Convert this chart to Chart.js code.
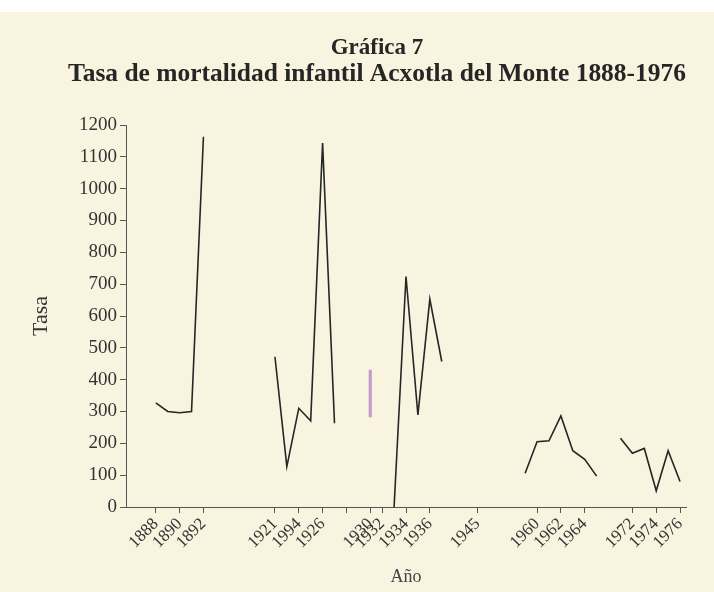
<!DOCTYPE html>
<html lang="es">
<head>
<meta charset="utf-8">
<title>Gráfica 7</title>
<script src="https://cdn.jsdelivr.net/npm/chart.js@4.4.1/dist/chart.umd.min.js"></script>
<style>
  html, body { margin: 0; padding: 0; background: #f8f4df; }
  #grafica {
    display: block;
    background: linear-gradient(to bottom, #ffffff 0, #ffffff 12px, #f8f4df 12px);
  }
</style>
</head>
<body>
<canvas id="grafica" width="714" height="592"></canvas>
<script>
// categories on the x axis (the original axis is not proportional to the years,
// so empty slots stand for the gaps)
const anios = [
  '', '',
  '1888', '1889', '1890', '1891', '1892',
  '', '', '', '', '',
  '1921', '1923', '1994', '1925', '1926', '1927', '1928', '1929', '1930',
  '1932', '1933', '1934', '1935', '1936', '1937',
  '', '', '1945', '', '', '',
  '1959', '1960', '1961', '1962', '1963', '1964', '1965',
  '',
  '1971', '1972', '1973', '1974', '1975', '1976'
];

// tasa de mortalidad infantil (null = no data)
const tasa = [
  null, null,
  327, 300, 296, 300, 1163,
  null, null, null, null, null,
  472, 127, 310, 271, 1143, 263, null, null, null,
  null, 0, 724, 289, 653, 457,
  null, null, null, null, null, null,
  106, 205, 208, 286, 177, 150, 97,
  null,
  216, 169, 184, 51, 177, 80
];

// the little coloured stroke printed near 1930
const trazo1930 = [283, 430];

// labelled ticks, and ticks that are drawn without a label
const etiquetas = ['1888', '1890', '1892', '1921', '1994', '1926', '1930', '1932', '1934',
  '1936', '1945', '1960', '1962', '1964', '1972', '1974', '1976'];
const marcasSinEtiqueta = ['1928'];

const serif = "'Liberation Serif', 'Times New Roman', serif";
const tinta = '#262626';

let grafica;

window.onload = function () {
  const ctx = document.getElementById('grafica').getContext('2d');

  const trazo = anios.map(a => (a === '1930' ? trazo1930 : null));

  grafica = new Chart(ctx, {
    type: 'line',
    data: {
      labels: anios,
      datasets: [{
        label: 'Tasa',
        data: tasa,
        borderColor: tinta,
        borderWidth: 1.6,
        pointRadius: 0,
        tension: 0,
        spanGaps: false,
        order: 1
      }, {
        type: 'bar',
        label: 'trazo',
        data: trazo,
        backgroundColor: 'rgba(185, 140, 200, 0.85)',
        barThickness: 2.5,
        order: 2
      }]
    },
    options: {
      responsive: false,
      animation: false,
      layout: {
        padding: { top: 0, left: 68, right: 28, bottom: 0 }
      },
      plugins: {
        legend: { display: false },
        tooltip: { enabled: false },
        title: {
          display: true,
          text: 'Gráfica 7',
          color: tinta,
          font: { family: serif, size: 23, weight: 'bold', lineHeight: 1 },
          padding: { top: 36.5, bottom: 0 }
        },
        subtitle: {
          display: true,
          text: 'Tasa de mortalidad infantil Acxotla del Monte 1888-1976',
          color: tinta,
          font: { family: serif, size: 26, weight: 'bold', lineHeight: 1 },
          padding: { top: 1.5, bottom: 38 }
        }
      },
      scales: {
        x: {
          type: 'category',
          offset: true,
          afterFit: s => { s.height = 85; },
          grid: {
            drawOnChartArea: false,
            offset: false,
            tickLength: 6,
            tickColor: c => {
              const a = anios[c.index];
              return etiquetas.includes(a) || marcasSinEtiqueta.includes(a) ? '#555' : 'rgba(0,0,0,0)';
            }
          },
          border: { color: '#555', width: 1 },
          ticks: {
            autoSkip: false,
            minRotation: 45,
            maxRotation: 45,
            padding: 1,
            color: '#333',
            font: { family: serif, size: 17 },
            callback: function (v, i) {
              return etiquetas.includes(anios[i]) ? anios[i] : '';
            }
          },
          title: {
            display: true,
            text: 'Año',
            color: '#444',
            font: { family: serif, size: 18 },
            padding: { top: 0, bottom: 4 }
          }
        },
        y: {
          min: 0,
          max: 1200,
          afterFit: s => { s.width = 58; },
          grid: { drawOnChartArea: false, tickLength: 6, tickColor: '#555' },
          border: { color: '#555', width: 1 },
          ticks: {
            stepSize: 100,
            padding: 3,
            color: '#333',
            font: { family: serif, size: 19 },
            callback: v => String(v)
          },
          title: {
            display: true,
            text: 'Tasa',
            color: '#333',
            font: { family: serif, size: 22 },
            padding: { top: -40, bottom: 0 }
          }
        }
      }
    }
  });
};
</script>
</body>
</html>
